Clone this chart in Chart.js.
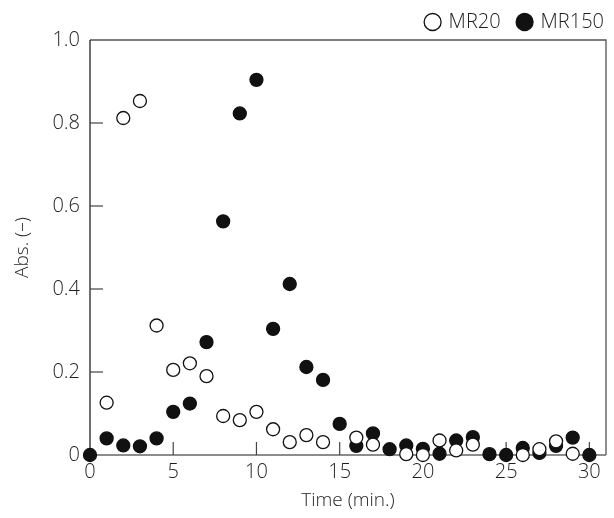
<!DOCTYPE html>
<html>
<head>
<meta charset="utf-8">
<script src="https://cdn.jsdelivr.net/npm/chart.js@4/dist/chart.umd.min.js"></script>
<style>
  html, body { margin: 0; padding: 0; background: #fff; }
  #wrap { width: 614px; height: 518px; }
</style>
</head>
<body>
<div id="wrap"><canvas id="c" width="614" height="518"></canvas></div>
<script>
const times = [0,1,2,3,4,5,6,7,8,9,10,11,12,13,14,15,16,17,18,19,20,21,22,23,24,25,26,27,28,29,30];
const mr20  = [null,0.126,0.812,0.853,0.312,0.205,0.221,0.19,0.094,0.084,0.104,0.062,0.031,0.048,0.031,null,0.042,0.025,null,0.002,0.0,0.035,0.011,0.025,null,null,0.0,0.014,0.033,0.003,null];
const mr150 = [0,0.040,0.023,0.021,0.040,0.104,0.124,0.272,0.563,0.823,0.904,0.304,0.412,0.212,0.181,0.075,0.022,0.052,0.014,0.023,0.015,0.003,0.035,0.043,0.002,0.0,0.017,0.005,0.022,0.042,0.0];
const xTicks = [0,5,10,15,20,25,30];
const yTicks = [0,0.2,0.4,0.6,0.8,1.0];
const seriesNames = ['MR20','MR150'];

const FONT = "'Open Sans', 'Noto Sans', sans-serif";
const TXT = '#1e1e1e';
const W = '300';

const framePlugin = {
  id: 'frame',
  beforeInit(chart) {
    const origFit = chart.legend.fit;
    chart.legend.fit = function() { origFit.call(this); this.height = 40; };
  },
  afterLayout(chart) {
    chart.legend.left += 16;
    chart.legend.right += 16;
    chart.legend.top -= 6;
    chart.legend.bottom -= 6;
  },
  beforeDatasetsDraw(chart) {
    const {ctx, chartArea: a, scales: {x, y}} = chart;
    ctx.save();
    ctx.lineWidth = 1.3;
    ctx.strokeStyle = '#555';
    ctx.beginPath();
    ctx.moveTo(a.left, a.top); ctx.lineTo(a.right, a.top); ctx.lineTo(a.right, a.bottom);
    ctx.stroke();
    ctx.strokeStyle = '#666';
    ctx.beginPath();
    ctx.moveTo(a.left, a.bottom); ctx.lineTo(a.right, a.bottom);
    ctx.stroke();
    ctx.strokeStyle = '#222';
    ctx.beginPath();
    ctx.moveTo(a.left, a.top); ctx.lineTo(a.left, a.bottom);
    ctx.stroke();
    ctx.strokeStyle = '#444';
    ctx.lineWidth = 1.2;
    yTicks.forEach(v => {
      if (v === 0 || v === 1) return;
      const py = y.getPixelForValue(v);
      ctx.beginPath(); ctx.moveTo(a.left, py); ctx.lineTo(a.left + 13, py); ctx.stroke();
    });
    xTicks.forEach(v => {
      if (v === 0) return;
      const px = x.getPixelForValue(v);
      ctx.beginPath(); ctx.moveTo(px, a.bottom); ctx.lineTo(px, a.bottom - 13); ctx.stroke();
    });
    ctx.restore();
  }
};

new Chart(document.getElementById('c'), {
  type: 'scatter',
  data: {
    datasets: [
      {
        label: seriesNames[0],
        data: times.map((t, i) => ({x: t, y: mr20[i]})),
        pointRadius: 6.5,
        pointHoverRadius: 6.5,
        borderWidth: 1.3,
        borderColor: '#111',
        backgroundColor: '#fff',
        clip: false
      },
      {
        label: seriesNames[1],
        data: times.map((t, i) => ({x: t, y: mr150[i]})),
        pointRadius: 6.5,
        pointHoverRadius: 6.5,
        borderWidth: 1.3,
        borderColor: '#111',
        backgroundColor: '#111',
        clip: false
      }
    ]
  },
  options: {
    responsive: false,
    animation: false,
    layout: { padding: { left: 0, right: 8, top: 0, bottom: 0 } },
    plugins: {
      tooltip: { enabled: false },
      legend: {
        display: true,
        position: 'top',
        align: 'end',
        labels: {
          usePointStyle: true,
          pointStyle: 'circle',
          boxWidth: 12,
          boxHeight: 12,
          padding: 18,
          color: TXT,
          font: { family: FONT, size: 20, weight: W }
        }
      }
    },
    scales: {
      x: {
        type: 'linear',
        min: 0,
        max: 31,
        afterFit(s) { s.height = 63; },
        grid: { display: false, drawTicks: false },
        border: { display: false },
        ticks: {
          stepSize: 5,
          includeBounds: false,
          padding: 5,
          maxRotation: 0,
          color: TXT,
          font: { family: FONT, size: 20, weight: W }
        },
        afterBuildTicks(s) { s.ticks = xTicks.map(v => ({value: v})); },
        title: {
          display: true,
          text: 'Time (min.)',
          color: TXT,
          padding: { top: 6, bottom: 6 },
          font: { family: FONT, size: 19, weight: W }
        }
      },
      y: {
        type: 'linear',
        min: 0,
        max: 1,
        afterFit(s) { s.width = 90; },
        grid: { display: false, drawTicks: false },
        border: { display: false },
        ticks: {
          padding: 10,
          color: TXT,
          font: { family: FONT, size: 20, weight: W },
          callback: v => (v === 0 ? '0' : v.toFixed(1))
        },
        afterBuildTicks(s) { s.ticks = yTicks.map(v => ({value: v})); },
        title: {
          display: true,
          text: 'Abs. (–)',
          color: TXT,
          padding: { top: 11, bottom: 11 },
          font: { family: FONT, size: 19, weight: W }
        }
      }
    }
  },
  plugins: [framePlugin]
});
</script>
</body>
</html>
